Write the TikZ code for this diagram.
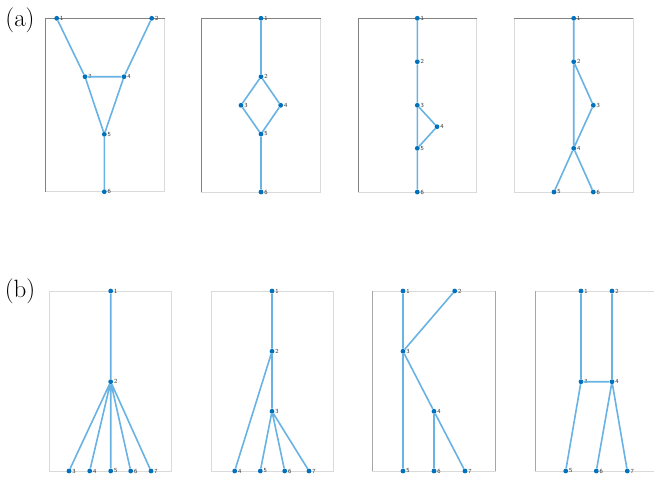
\documentclass[tikz,border=0pt]{standalone}
\begin{document}
\definecolor{dotblue}{RGB}{0,114,189}
\definecolor{edgeblue}{RGB}{105,178,228}
\definecolor{framelight}{RGB}{218,218,218}
\definecolor{framedark}{RGB}{130,130,130}
\definecolor{numgray}{RGB}{50,50,50}
\begin{tikzpicture}[x=1pt,y=-1pt,
  vtx/.style={circle,fill=dotblue,inner sep=0pt,minimum size=4.8pt},
  num/.style={font=\sffamily\fontsize{6.2}{7}\selectfont,text=numgray,inner sep=0.5pt},
  edge/.style={draw=edgeblue,line width=1.6pt},
  frame/.style={draw=framelight,line width=1pt},
  darkside/.style={draw=framedark,line width=1pt},
  tag/.style={font=\fontsize{25}{30}\selectfont,inner sep=0pt}]
\useasboundingbox (0,0) rectangle (654,479);

% ---------- panel labels ----------
\node[tag] (taga) at (20,20) {(a)};
\node[tag] (tagb) at (20,291) {(b)};

% ---------- frames ----------
\draw[frame] (45,18.3) rectangle (164.5,191.7);
\draw[darkside] (45,191.7) -- (45,18.3) -- (164.5,18.3);
\draw[frame] (201.7,18.3) rectangle (320.7,192);
\draw[darkside] (201.7,192) -- (201.7,18.3) -- (320.7,18.3);
\draw[frame] (358,18.3) rectangle (476.7,192);
\draw[darkside] (358,192) -- (358,18.3) -- (476.7,18.3);
\draw[frame] (514.3,18.3) rectangle (633.3,192);
\draw[darkside] (514.3,18.3) -- (633.3,18.3);

\draw[frame] (49.3,291) rectangle (171.7,471);
\draw[frame] (211,291) rectangle (333,471);
\draw[frame] (372.7,291) rectangle (495.5,471);
\draw[draw=framedark!70!white,line width=1pt] (372.7,291) -- (372.7,471);
\draw[draw=framedark!70!white,line width=1pt] (495.5,291) -- (495.5,471);
\draw[frame] (535,291) rectangle (657,471);
\draw[draw=framedark!70!white,line width=1pt] (535,291) -- (535,471);

% ---------- graph a1 ----------
\node[vtx,label={[num]right:1}] (p1a) at (56.7,18.3) {};
\node[vtx,label={[num]right:2}] (p1b) at (151.7,18.3) {};
\node[vtx,label={[num]right:3}] (p1c) at (85,76.7) {};
\node[vtx,label={[num]right:4}] (p1d) at (124,76.7) {};
\node[vtx,label={[num]right:5}] (p1e) at (104.3,134.3) {};
\node[vtx,label={[num]right:6}] (p1f) at (104.3,191.7) {};
\draw[edge] (p1a) -- (p1c) (p1b) -- (p1d) (p1c) -- (p1d)
  (p1c) -- (p1e) (p1d) -- (p1e) (p1e) -- (p1f);

% ---------- graph a2 ----------
\node[vtx,label={[num]right:1}] (p2a) at (261,18.3) {};
\node[vtx,label={[num]right:2}] (p2b) at (261,76.7) {};
\node[vtx,label={[num]right:3}] (p2c) at (241,105.3) {};
\node[vtx,label={[num]right:4}] (p2d) at (280.7,105.3) {};
\node[vtx,label={[num]right:5}] (p2e) at (261,134) {};
\node[vtx,label={[num]right:6}] (p2f) at (261,192) {};
\draw[edge] (p2a) -- (p2b) (p2b) -- (p2c) (p2b) -- (p2d)
  (p2c) -- (p2e) (p2d) -- (p2e) (p2e) -- (p2f);

% ---------- graph a3 ----------
\node[vtx,label={[num]right:1}] (p3a) at (417.3,18.3) {};
\node[vtx,label={[num]right:2}] (p3b) at (417.3,61.7) {};
\node[vtx,label={[num]right:3}] (p3c) at (417.3,105.3) {};
\node[vtx,label={[num]right:4}] (p3d) at (437,126.7) {};
\node[vtx,label={[num]right:5}] (p3e) at (417.3,148.3) {};
\node[vtx,label={[num]right:6}] (p3f) at (417.3,192) {};
\draw[edge] (p3a) -- (p3b) (p3b) -- (p3c) (p3c) -- (p3d)
  (p3c) -- (p3e) (p3d) -- (p3e) (p3e) -- (p3f);

% ---------- graph a4 ----------
\node[vtx,label={[num]right:1}] (p4a) at (573.7,18.3) {};
\node[vtx,label={[num]right:2}] (p4b) at (573.7,61.7) {};
\node[vtx,label={[num]right:3}] (p4c) at (593.3,105.3) {};
\node[vtx,label={[num]right:4}] (p4d) at (573.7,148.3) {};
\node[vtx,label={[num]right:5}] (p4e) at (554,192) {};
\node[vtx,label={[num]right:6}] (p4f) at (593.3,192) {};
\draw[edge] (p4a) -- (p4b) (p4b) -- (p4c) (p4b) -- (p4d)
  (p4c) -- (p4d) (p4d) -- (p4e) (p4d) -- (p4f);

% ---------- graph b1 ----------
\node[vtx,label={[num]right:1}] (q1a) at (110.7,291) {};
\node[vtx,label={[num]right:2}] (q1b) at (110.7,381.7) {};
\node[vtx,label={[num]right:3}] (q1c) at (69,471) {};
\node[vtx,label={[num]right:4}] (q1d) at (89.7,471) {};
\node[vtx,label={[num]right:5}] (q1e) at (110.7,471) {};
\node[vtx,label={[num]right:6}] (q1f) at (130.7,471) {};
\node[vtx,label={[num]right:7}] (q1g) at (151,471) {};
\draw[edge] (q1a) -- (q1b) (q1b) -- (q1c) (q1b) -- (q1d)
  (q1b) -- (q1e) (q1b) -- (q1f) (q1b) -- (q1g);

% ---------- graph b2 ----------
\node[vtx,label={[num]right:1}] (q2a) at (272,291) {};
\node[vtx,label={[num]right:2}] (q2b) at (272,351.3) {};
\node[vtx,label={[num]right:3}] (q2c) at (272,411.3) {};
\node[vtx,label={[num]right:4}] (q2d) at (234.7,471) {};
\node[vtx,label={[num]right:5}] (q2e) at (260.3,471) {};
\node[vtx,label={[num]right:6}] (q2f) at (284.7,471) {};
\node[vtx,label={[num]right:7}] (q2g) at (309,471) {};
\draw[edge] (q2a) -- (q2b) (q2b) -- (q2c) (q2b) -- (q2d)
  (q2c) -- (q2e) (q2c) -- (q2f) (q2c) -- (q2g);

% ---------- graph b3 ----------
\node[vtx,label={[num]right:1}] (q3a) at (403,291) {};
\node[vtx,label={[num]right:2}] (q3b) at (454.7,291) {};
\node[vtx,label={[num]right:3}] (q3c) at (403,351.3) {};
\node[vtx,label={[num]right:4}] (q3d) at (434,411.3) {};
\node[vtx,label={[num]right:5}] (q3e) at (403,471) {};
\node[vtx,label={[num]right:6}] (q3f) at (434,471) {};
\node[vtx,label={[num]right:7}] (q3g) at (465,471) {};
\draw[edge] (q3a) -- (q3c) (q3b) -- (q3c) (q3c) -- (q3d)
  (q3c) -- (q3e) (q3d) -- (q3f) (q3d) -- (q3g);

% ---------- graph b4 ----------
\node[vtx,label={[num]right:1}] (q4a) at (581,291) {};
\node[vtx,label={[num]right:2}] (q4b) at (612,291) {};
\node[vtx,label={[num]right:3}] (q4c) at (581,381.7) {};
\node[vtx,label={[num]right:4}] (q4d) at (612,381.7) {};
\node[vtx,label={[num]right:5}] (q4e) at (565.7,471) {};
\node[vtx,label={[num]right:6}] (q4f) at (596.3,471) {};
\node[vtx,label={[num]right:7}] (q4g) at (627.3,471) {};
\draw[edge] (q4a) -- (q4c) (q4b) -- (q4d) (q4c) -- (q4d)
  (q4c) -- (q4e) (q4d) -- (q4f) (q4d) -- (q4g);
\end{tikzpicture}
\end{document}
